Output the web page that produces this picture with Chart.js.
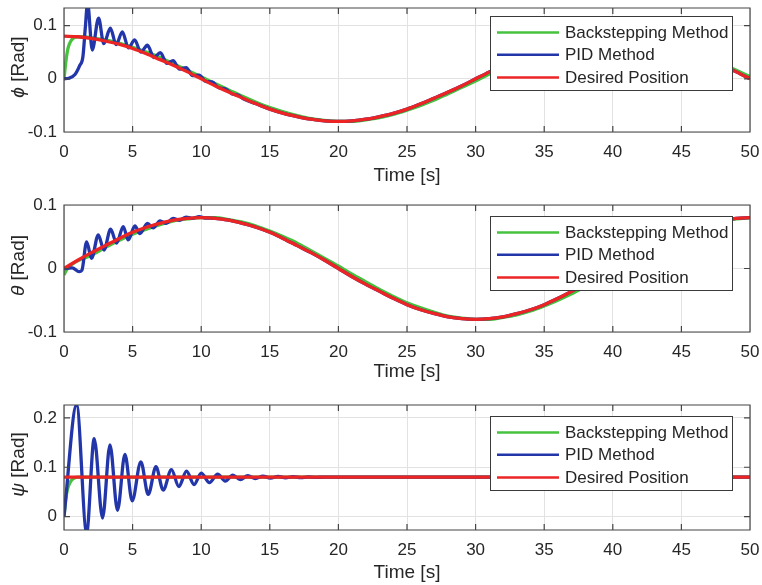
<!DOCTYPE html>
<html><head><meta charset="utf-8">
<script src="https://cdn.jsdelivr.net/npm/chart.js@4.4.1/dist/chart.umd.min.js"></script>
<style>
html,body{margin:0;padding:0;background:#fff;width:762px;height:585px;overflow:hidden}
canvas{position:absolute;left:0;display:block}
</style></head><body>
<canvas id="c1" width="762" height="195" style="top:0px"></canvas>
<canvas id="c2" width="762" height="200" style="top:195px"></canvas>
<canvas id="c3" width="762" height="190" style="top:395px"></canvas>
<script>
// ---------- data ----------
const xTicks = [0,5,10,15,20,25,30,35,40,45,50];
const legendLabels = ['Backstepping Method','PID Method','Desired Position'];
const xTitle = 'Time [s]';
const yTicksPhi = [-0.1, 0, 0.1];
const yTicksTheta = [-0.1, 0, 0.1];
const yTicksPsi = [0, 0.1, 0.2];

const tDesired = [0,1,2,3,4,5,6,7,8,9,10,11,12,13,14,15,16,17,18,19,20,21,22,23,24,25,26,27,28,29,30,31,32,33,34,35,36,37,38,39,40,41,42,43,44,45,46,47,48,49,50];
const phiDesired = [0.080,0.079,0.076,0.071,0.065,0.057,0.047,0.036,0.025,0.013,0,-0.013,-0.025,-0.036,-0.047,-0.057,-0.065,-0.071,-0.076,-0.079,-0.080,-0.079,-0.076,-0.071,-0.065,-0.057,-0.047,-0.036,-0.025,-0.013,0,0.013,0.025,0.036,0.047,0.057,0.065,0.071,0.076,0.079,0.080,0.079,0.076,0.071,0.065,0.057,0.047,0.036,0.025,0.013,0];
const thetaDesired = [0,0.013,0.025,0.036,0.047,0.057,0.065,0.071,0.076,0.079,0.080,0.079,0.076,0.071,0.065,0.057,0.047,0.036,0.025,0.013,0,-0.013,-0.025,-0.036,-0.047,-0.057,-0.065,-0.071,-0.076,-0.079,-0.080,-0.079,-0.076,-0.071,-0.065,-0.057,-0.047,-0.036,-0.025,-0.013,0,0.013,0.025,0.036,0.047,0.057,0.065,0.071,0.076,0.079,0.080];
const tPsiDesired = [0,50];
const psiDesired = [0.08,0.08];

const tPhiBack = [0,0.15,0.3,0.5,0.7,1,2,3,4,5,6,7,8,9,10,11,12,13,14,15,16,17,18,19,20,21,22,23,24,25,26,27,28,29,30,31,32,33,34,35,36,37,38,39,40,41,42,43,44,45,46,47,48,49,50];
const phiBack = [0,0.035,0.058,0.071,0.077,0.079,0.077,0.073,0.067,0.059,0.050,0.040,0.028,0.016,0.004,-0.009,-0.021,-0.033,-0.044,-0.054,-0.062,-0.069,-0.075,-0.078,-0.080,-0.080,-0.077,-0.073,-0.067,-0.059,-0.050,-0.040,-0.028,-0.016,-0.004,0.009,0.021,0.033,0.044,0.054,0.062,0.069,0.075,0.078,0.080,0.080,0.077,0.073,0.067,0.059,0.050,0.040,0.028,0.016,0.004];
const tThetaBack = [0,0.3,0.6,1,2,3,4,5,6,7,8,9,10,11,12,13,14,15,16,17,18,19,20,21,22,23,24,25,26,27,28,29,30,31,32,33,34,35,36,37,38,39,40,41,42,43,44,45,46,47,48,49,50];
const thetaBack = [-0.010,0.002,0.007,0.012,0.021,0.033,0.044,0.054,0.062,0.069,0.075,0.078,0.080,0.080,0.077,0.073,0.067,0.059,0.050,0.040,0.028,0.016,0.004,-0.009,-0.021,-0.033,-0.044,-0.054,-0.062,-0.069,-0.075,-0.078,-0.080,-0.080,-0.077,-0.073,-0.067,-0.059,-0.050,-0.040,-0.028,-0.016,-0.004,0.009,0.021,0.033,0.044,0.054,0.062,0.069,0.075,0.078,0.080];
const tPsiBack = [0,0.1,0.25,0.5,0.75,1,50];
const psiBack = [0,0.030,0.055,0.072,0.078,0.080,0.080];

const tPhiPID = [0,0.35,0.8,1.15,1.38,1.55,1.72,2.06,2.52,2.9,3.38,3.8,4.25,4.7,5.15,5.6,6.08,6.55,7.02,7.5,7.95,8.42,8.9,9.38,9.85,10.32,10.8,11.28,11.75,12.22,12.7,13.1,14,15,16,17,18,19,20,21,22,23,24,25,26,27,28,29,30,31,32,33,34,35,36,37,38,39,40,41,42,43,44,45,46,47,48,49,50];
const phiPID = [0,0.001,0.008,0.025,0.042,0.095,0.142,0.054,0.114,0.066,0.095,0.064,0.088,0.058,0.073,0.050,0.063,0.040,0.049,0.029,0.034,0.018,0.021,0.006,0.007,-0.005,-0.006,-0.017,-0.019,-0.028,-0.031,-0.038,-0.047,-0.057,-0.065,-0.071,-0.076,-0.079,-0.080,-0.079,-0.076,-0.071,-0.065,-0.057,-0.047,-0.036,-0.025,-0.013,0,0.013,0.025,0.036,0.047,0.057,0.065,0.071,0.076,0.079,0.080,0.079,0.076,0.071,0.065,0.057,0.047,0.036,0.025,0.013,0];
const tThetaPID = [0,0.6,1.1,1.3,1.65,2.01,2.5,2.91,3.4,3.83,4.32,4.68,5.17,5.53,6.08,6.5,7.0,7.45,7.95,8.4,8.9,9.35,9.85,10.3,11,12,13,14,15,16,17,18,19,20,21,22,23,24,25,26,27,28,29,30,31,32,33,34,35,36,37,38,39,40,41,42,43,44,45,46,47,48,49,50];
const thetaPID = [0,0.001,-0.005,-0.003,0.042,0.016,0.053,0.029,0.062,0.040,0.066,0.045,0.067,0.055,0.071,0.064,0.075,0.071,0.079,0.076,0.081,0.079,0.0815,0.0795,0.079,0.076,0.071,0.065,0.057,0.047,0.036,0.025,0.013,0,-0.013,-0.025,-0.036,-0.047,-0.057,-0.065,-0.071,-0.076,-0.079,-0.080,-0.079,-0.076,-0.071,-0.065,-0.057,-0.047,-0.036,-0.025,-0.013,0,0.013,0.025,0.036,0.047,0.057,0.065,0.071,0.076,0.079,0.080];
const tPsiPID = [0,0.92,1.65,2.2,2.81,3.35,3.9,4.44,4.97,5.6,6.14,6.7,7.23,7.83,8.37,8.93,9.48,10.0,10.6,11.2,11.75,12.3,12.85,13.4,13.95,14.5,15.05,15.6,16.15,16.7,17.25,17.8,18.35,19,50];
const psiPID = [0,0.226,-0.032,0.158,-0.003,0.145,0.013,0.126,0.032,0.111,0.045,0.101,0.054,0.095,0.061,0.092,0.065,0.088,0.069,0.086,0.072,0.084,0.075,0.083,0.077,0.082,0.078,0.0815,0.0785,0.081,0.079,0.0805,0.0795,0.080,0.080];

// ---------- styling / layout ----------
const COLORS = ['#46c23c', '#2236aa', '#ec2424'];
const FONT = "'Liberation Sans', Arial, Helvetica, sans-serif";
const TEXT = '#262626';
const AXIS = '#454545';
const GRID = '#e2e2e2';
const LEFT = 64, RIGHT_PAD = 12;

const panels = [
  {id:'c1', h:195, top:8, bottom:132, ymin:-0.1, ymax:0.133, yTicks:yTicksPhi, sym:'\u03D5',
   series:[[tPhiBack,phiBack],[tPhiPID,phiPID],[tDesired,phiDesired]], titleCenter:176, legendTop:16},
  {id:'c2', h:200, top:10, bottom:137, ymin:-0.1, ymax:0.1, yTicks:yTicksTheta, sym:'\u03B8',
   series:[[tThetaBack,thetaBack],[tThetaPID,thetaPID],[tDesired,thetaDesired]], titleCenter:177, legendTop:21},
  {id:'c3', h:190, top:10, bottom:135, ymin:-0.027, ymax:0.226, yTicks:yTicksPsi, sym:'\u03C8',
   series:[[tPsiBack,psiBack],[tPsiPID,psiPID],[tPsiDesired,psiDesired]], titleCenter:178, legendTop:21}
];

const framePlugin = {
  id: 'frame',
  afterDatasetsDraw(chart, args, o) {
    const {ctx, chartArea: a} = chart;
    const xs = chart.scales.x, ys = chart.scales.y;
    ctx.save();
    // box + inward ticks
    ctx.strokeStyle = AXIS; ctx.lineWidth = 1.2;
    ctx.beginPath();
    ctx.rect(a.left, a.top, a.right - a.left, a.bottom - a.top);
    const tl = 6;
    xTicks.forEach(v => {
      const p = xs.getPixelForValue(v);
      ctx.moveTo(p, a.bottom); ctx.lineTo(p, a.bottom - tl);
      ctx.moveTo(p, a.top); ctx.lineTo(p, a.top + tl);
    });
    o.yTicks.forEach(v => {
      const p = ys.getPixelForValue(v);
      ctx.moveTo(a.left, p); ctx.lineTo(a.left + tl, p);
      ctx.moveTo(a.right, p); ctx.lineTo(a.right - tl, p);
    });
    ctx.stroke();

    // legend
    const lx = 490, rx = 733, ty = o.legendTop, bh = 75;
    ctx.fillStyle = '#ffffff';
    ctx.fillRect(lx, ty, rx - lx, bh);
    ctx.strokeStyle = '#3a3a3a'; ctx.lineWidth = 1;
    ctx.strokeRect(lx + 0.5, ty + 0.5, rx - lx - 1, bh - 1);
    const rows = [16.5, 38.8, 61.5];
    ctx.font = '17px ' + FONT;
    ctx.textBaseline = 'middle'; ctx.textAlign = 'left';
    chart.data.datasets.forEach((ds, i) => {
      const y = ty + rows[i];
      ctx.strokeStyle = ds.borderColor; ctx.lineWidth = 2.6;
      ctx.beginPath(); ctx.moveTo(497, y); ctx.lineTo(559, y); ctx.stroke();
      ctx.fillStyle = TEXT;
      ctx.fillText(ds.label, 565, y + 1);
    });

    // y-axis title: italic greek symbol + " [Rad]"
    const cy = (a.top + a.bottom) / 2 - 3;
    ctx.translate(19, cy);
    ctx.rotate(-Math.PI / 2);
    ctx.fillStyle = TEXT;
    ctx.textBaseline = 'middle';
    const f1 = 'italic 19px ' + FONT, f2 = '19px ' + FONT;
    ctx.font = f1; const w1 = ctx.measureText(o.sym).width;
    ctx.font = f2; const w2 = ctx.measureText(' [Rad]').width;
    let x0 = -(w1 + w2) / 2;
    ctx.font = f1; ctx.fillText(o.sym, x0, 0);
    ctx.font = f2; ctx.fillText(' [Rad]', x0 + w1, 0);
    ctx.restore();
  }
};

panels.forEach(P => {
  new Chart(document.getElementById(P.id), {
    type: 'line',
    data: {
      datasets: P.series.map((s, i) => ({
        label: legendLabels[i],
        data: s[0].map((t, k) => ({x: t, y: s[1][k]})),
        borderColor: COLORS[i],
        backgroundColor: COLORS[i],
        borderWidth: 3.3,
        pointRadius: 0,
        cubicInterpolationMode: 'monotone',
        fill: false,
        clip: 0,
        order: 2 - i
      }))
    },
    options: {
      responsive: false,
      animation: false,
      events: [],
      layout: {padding: {top: P.top, right: RIGHT_PAD, left: 0, bottom: 0}},
      plugins: {
        legend: {display: false},
        tooltip: {enabled: false},
        frame: {yTicks: P.yTicks, sym: P.sym, legendTop: P.legendTop}
      },
      scales: {
        x: {
          type: 'linear', min: 0, max: 50,
          afterBuildTicks: sc => { sc.ticks = xTicks.map(v => ({value: v})); },
          afterFit: sc => { sc.height = P.h - P.bottom; sc.paddingLeft = 0; sc.paddingRight = 0; },
          grid: {color: GRID, drawTicks: false, lineWidth: 1},
          border: {display: false},
          ticks: {padding: 10, color: TEXT, font: {family: FONT, size: 17}, maxRotation: 0,
                  callback: v => String(v)},
          title: {display: true, text: xTitle, color: TEXT, font: {family: FONT, size: 19},
                  padding: {top: 0, bottom: P.h - P.titleCenter - 11.4}}
        },
        y: {
          type: 'linear', min: P.ymin, max: P.ymax,
          afterBuildTicks: sc => { sc.ticks = P.yTicks.map(v => ({value: v})); },
          afterFit: sc => { sc.width = LEFT; sc.paddingTop = 0; sc.paddingBottom = 0; },
          grid: {color: GRID, drawTicks: false, lineWidth: 1},
          border: {display: false},
          ticks: {padding: 7, color: TEXT, font: {family: FONT, size: 17},
                  callback: v => String(v)}
        }
      }
    },
    plugins: [framePlugin]
  });
});
</script>
</body></html>
